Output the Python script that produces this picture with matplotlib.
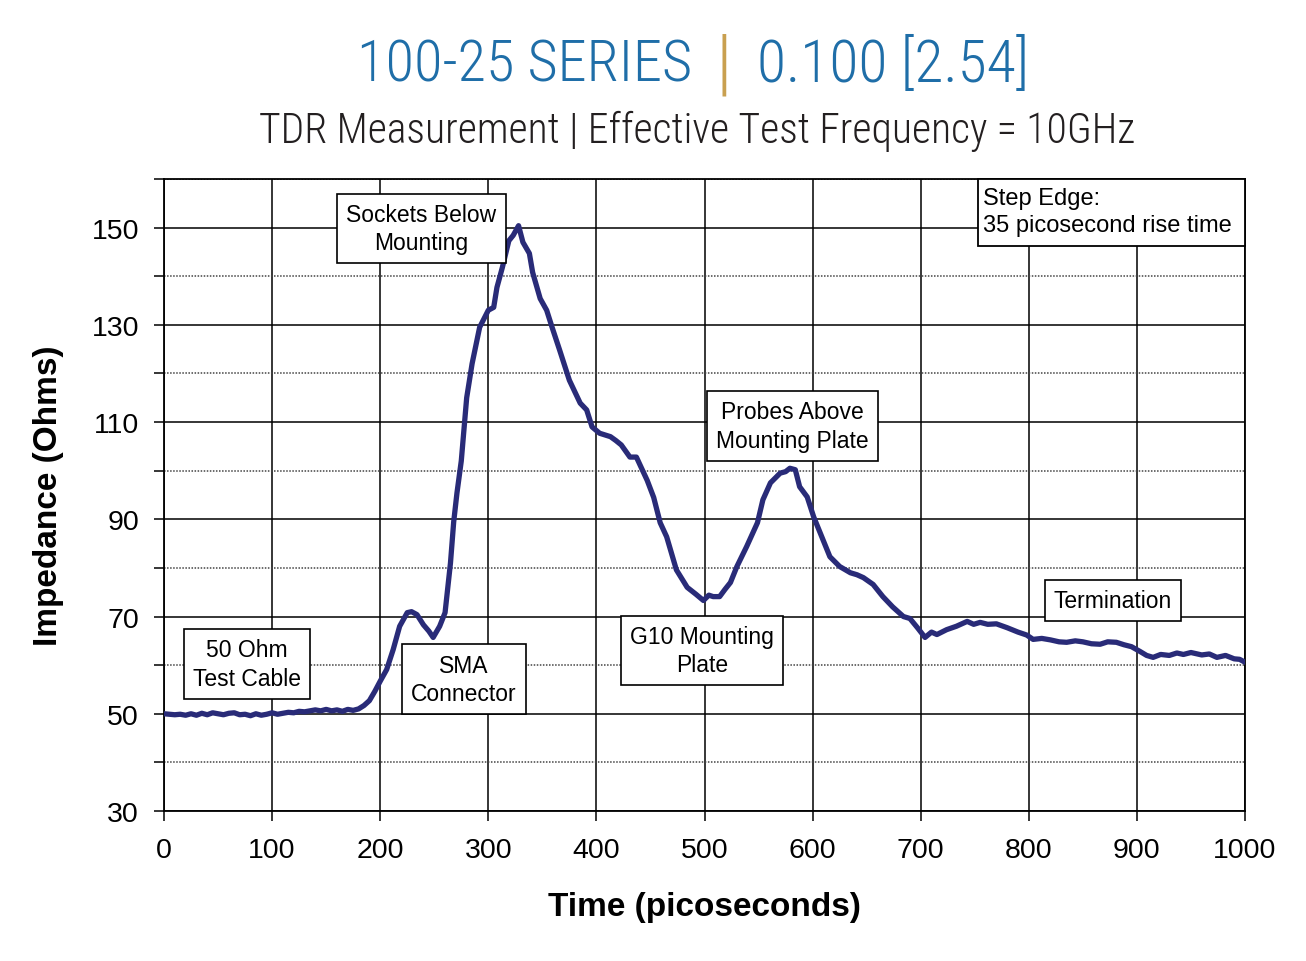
import matplotlib
matplotlib.use("Agg")
import matplotlib.pyplot as plt
from matplotlib import font_manager as fm
from matplotlib.ticker import MultipleLocator
from matplotlib.patches import Rectangle

def pick(names, default="DejaVu Sans"):
    for n in names:
        try:
            fm.findfont(fm.FontProperties(family=n), fallback_to_default=False)
            return n
        except Exception:
            pass
    return default

NARROW = pick(["Liberation Sans Narrow", "Roboto Condensed", "Open Sans Condensed", "Roboto"])
SANS = pick(["Liberation Sans", "Arial", "DejaVu Sans"])

# ---------------- data ----------------
time_ps = [0, 5, 10, 15, 20, 25, 30, 35, 40, 45, 50, 55, 60, 65, 70, 75, 80, 85, 90, 95,
           100, 105, 110, 115, 120, 125, 130, 135, 140, 145, 150, 155, 160, 165, 170, 175,
           180, 185, 190, 195, 200, 206, 212, 218, 225, 229, 234, 240, 245, 249, 255, 260,
           265, 268, 271, 275, 280, 285, 292, 300, 305, 308, 313, 319, 323, 328, 332, 338,
           341, 348, 354, 359, 366, 375, 385, 391, 396, 403, 413, 418, 423, 431, 437, 447,
           453, 459, 465, 474, 484, 492, 499, 504, 508, 514, 519, 524, 530, 539, 549, 554,
           561, 570, 575, 579, 584, 588, 595, 601, 607, 616, 625, 635, 641, 647, 656, 665,
           674, 684, 690, 697, 704, 710, 715, 724, 733, 743, 749, 755, 762, 770, 780, 790,
           798, 804, 812, 820, 828, 835, 843, 850, 858, 866, 873, 881, 888, 895, 903, 909,
           915, 922, 930, 937, 943, 950, 960, 967, 974, 982, 990, 995, 1000]
impedance = [50.0, 49.9, 49.8, 49.9, 49.7, 50.0, 49.7, 50.1, 49.8, 50.2, 50.0, 49.8, 50.1, 50.2, 49.8,
             49.9, 49.6, 50.0, 49.7, 49.9, 50.2, 49.9, 50.1, 50.3, 50.2, 50.5, 50.4, 50.6, 50.8, 50.6,
             50.9, 50.6, 50.8, 50.5, 50.9, 50.7, 51.0, 51.7, 52.7, 54.6, 56.7, 59.1, 63.2, 68.0, 70.8,
             71.0, 70.4, 68.3, 67.0, 65.7, 68.0, 70.8, 81.0, 89.5, 95.4, 102.0, 115.0, 122.0, 129.5, 133.0,
             133.6, 137.7, 141.8, 147.3, 148.4, 150.4, 147.0, 144.7, 140.8, 135.4, 133.0, 129.5, 124.8, 118.6, 113.9,
             112.5, 109.0, 107.7, 107.0, 106.2, 105.3, 102.8, 102.8, 98.0, 94.5, 89.3, 86.4, 79.6, 76.0, 74.6,
             73.3, 74.4, 74.1, 74.1, 75.6, 77.0, 80.3, 84.4, 89.3, 94.0, 97.5, 99.5, 99.8, 100.5, 100.2,
             96.7, 94.6, 90.5, 87.2, 82.3, 80.3, 79.0, 78.6, 78.0, 76.6, 74.1, 72.0, 70.0, 69.6, 67.7,
             65.7, 66.8, 66.3, 67.3, 68.0, 69.0, 68.4, 68.8, 68.4, 68.5, 67.7, 66.8, 66.2, 65.3, 65.5,
             65.2, 64.8, 64.7, 65.0, 64.8, 64.4, 64.3, 64.8, 64.7, 64.2, 63.8, 62.8, 62.0, 61.6, 62.2,
             62.0, 62.5, 62.2, 62.6, 62.1, 62.3, 61.6, 62.0, 61.3, 61.2, 60.6]

x_ticks = [0, 100, 200, 300, 400, 500, 600, 700, 800, 900, 1000]
y_ticks = [30, 50, 70, 90, 110, 130, 150]

notes = ["Sockets Below\nMounting", "50 Ohm\nTest Cable", "SMA\nConnector",
         "G10 Mounting\nPlate", "Probes Above\nMounting Plate", "Termination"]
note_t = [238, 77, 277.5, 497.7, 581, 878]
note_z = [149.8, 60.2, 57.1, 63.0, 109.2, 73.3]
step_note = "Step Edge:\n35 picosecond rise time"

# ---------------- figure ----------------
fig = plt.figure(figsize=(13.06, 9.62), dpi=100)
ax = fig.add_axes([164/1306, 1-812/962, (1245-164)/1306, (812-180)/962])

ax.plot(time_ps, impedance, color="#292b78", lw=3.8, solid_joinstyle="round",
        solid_capstyle="round", zorder=3)

ax.set_xlim(0, 1000)
ax.set_ylim(30, 160)
ax.set_xticks(x_ticks)
ax.set_yticks(y_ticks)
ax.yaxis.set_minor_locator(MultipleLocator(10))
ax.grid(which="major", color="black", lw=1.1, zorder=1)
ax.grid(which="minor", axis="y", color="#444444", lw=1.1, ls=(0, (1, 1)), zorder=1)
ax.tick_params(which="both", direction="out", length=7, width=1.1, color="black",
               labelsize=20.5)
ax.tick_params(axis="y", which="both", pad=11)
ax.tick_params(axis="x", which="both", pad=12)
for lab in ax.get_xticklabels() + ax.get_yticklabels():
    lab.set_fontfamily(SANS)
for s in ax.spines.values():
    s.set_linewidth(1.3)
    s.set_color("black")

ax.set_xlabel("Time (picoseconds)", fontsize=24, fontweight="bold", family=SANS, labelpad=20)
ax.set_ylabel("Impedance (Ohms)", fontsize=24, fontweight="bold", family=SANS, labelpad=20)

box = dict(boxstyle="square,pad=0.4", fc="white", ec="black", lw=1.2)
for txt, tx, tz in zip(notes, note_t, note_z):
    ax.text(tx, tz, txt, ha="center", va="center", fontsize=16.5, family=SANS,
            linespacing=1.3, bbox=box, zorder=4)

# Step-edge note box tucked into the top-right corner
ax.add_patch(Rectangle((753, 146.2), 1000 - 753, 160 - 146.2, fc="white", ec="black",
                       lw=1.3, zorder=4, clip_on=False))
ax.text(757.5, 153.3, step_note, ha="left", va="center", fontsize=17, family=SANS,
        linespacing=1.3, zorder=5)

# ---------------- titles ----------------
blue = "#1f6ea8"
fig.text(692/1306, 1-82/962, "100-25 SERIES", ha="right", va="baseline", fontsize=42,
         family=NARROW, fontweight="light", color=blue)
fig.text(724/1306, 1-66/962, "|", ha="center", va="center", fontsize=54,
         family=NARROW, fontweight="light", color="#c9a050")
fig.text(757/1306, 1-82/962, "0.100 [2.54]", ha="left", va="baseline", fontsize=43,
         family=NARROW, fontweight="light", color=blue)
fig.text(697/1306, 1-143/962, "TDR Measurement | Effective Test Frequency = 10GHz",
         ha="center", va="baseline", fontsize=30, family=NARROW, fontweight="light",
         color="#231f20")

fig.savefig("out.png", dpi=100)
